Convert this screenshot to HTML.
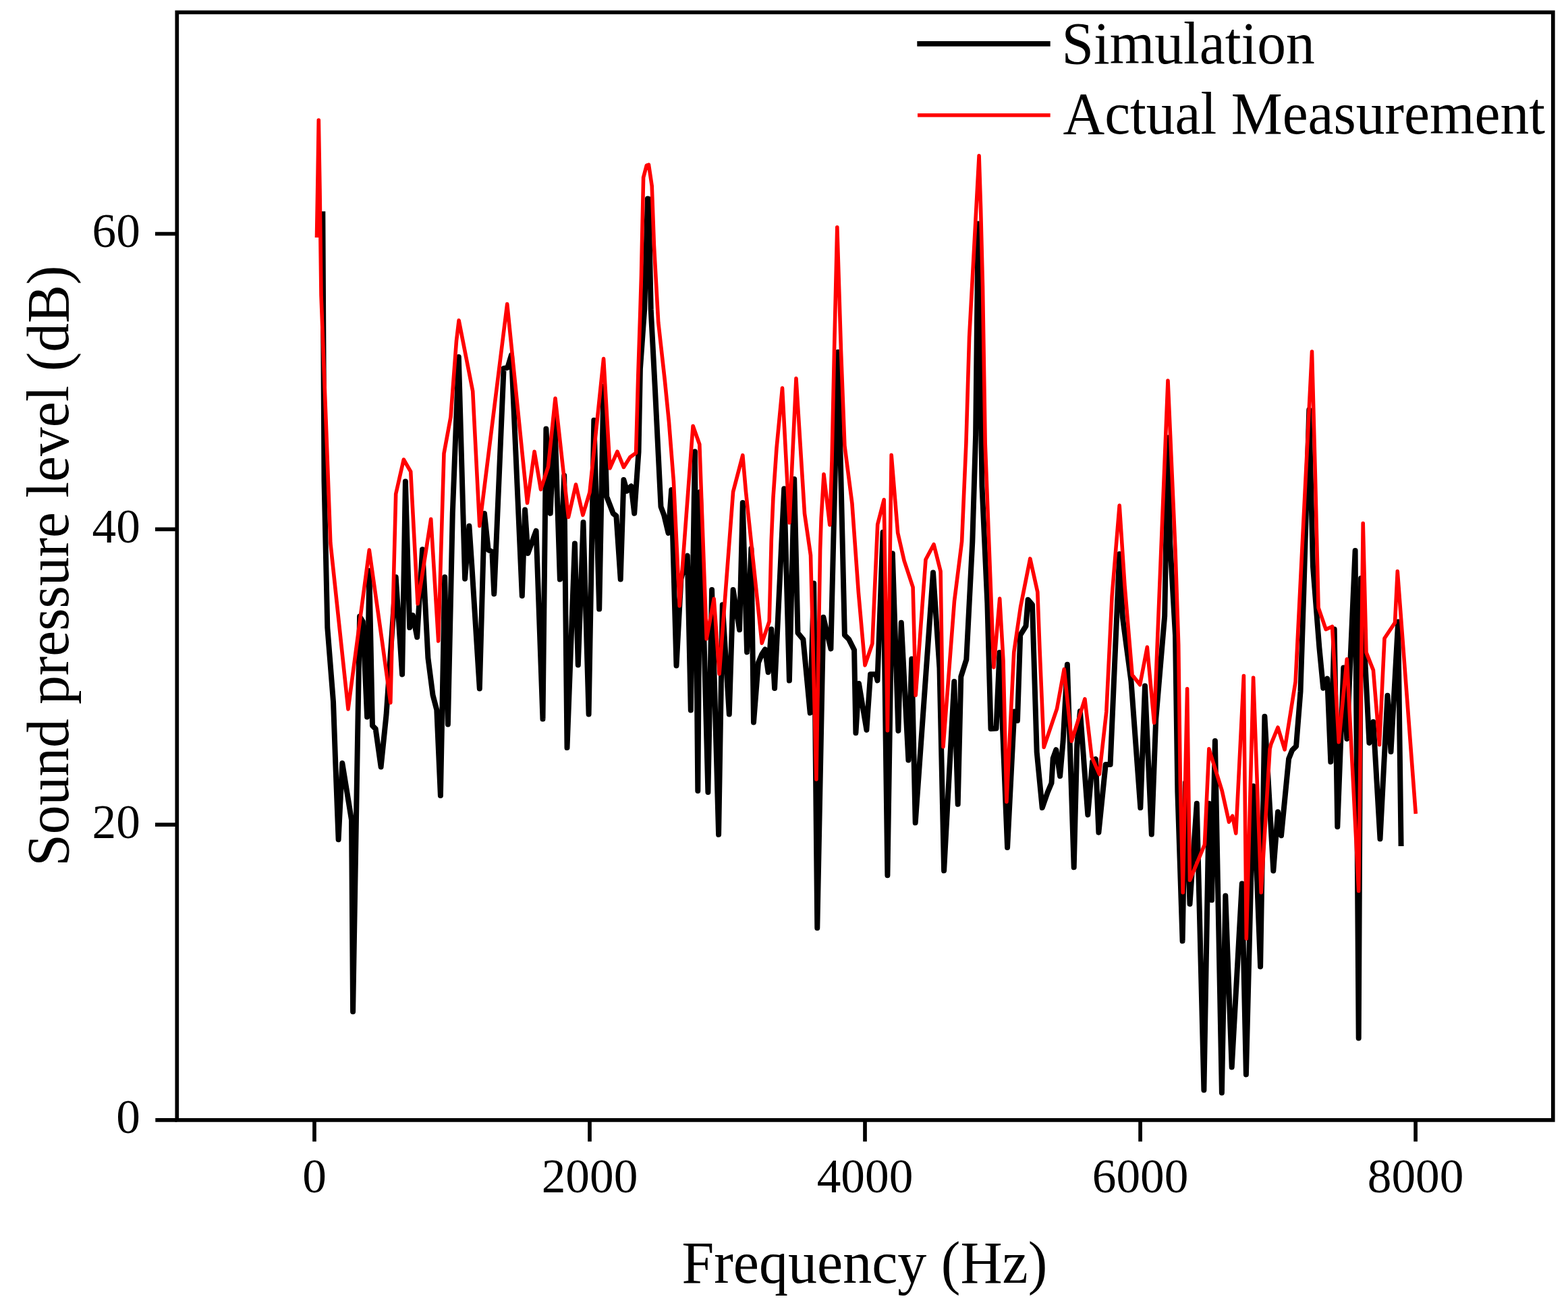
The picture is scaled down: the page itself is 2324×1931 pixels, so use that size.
<!DOCTYPE html>
<html><head><meta charset="utf-8"><style>
html,body{margin:0;padding:0;background:#fff;}
svg{display:block;}
text{font-family:'Liberation Serif','Times New Roman',serif;fill:#000;}
</style></head><body>
<svg width="2324" height="1931" viewBox="0 0 2324 1931">
<rect x="0" y="0" width="2324" height="1931" fill="#fff"/>
<g fill="none" stroke-linejoin="round" stroke-linecap="butt">
<path d="M478.3 313.3L480.5 713.0L485.3 930.0L494.0 1040.0L497.0 1124.0L501.6 1244.2L507.3 1130.9L521.0 1215.0L523.1 1499.2L533.1 913.5L537.8 921.0L544.1 1062.5L547.3 845.7L552.0 1075.5L556.7 1080.2L564.6 1136.5L572.5 1059.7L586.7 855.2L596.1 999.5L600.9 713.4L607.2 930.1L611.9 911.9L618.2 944.3L626.1 814.2L634.4 975.0L641.5 1030.0L647.3 1052.0L652.9 1179.1L659.2 855.2L663.9 1073.5L670.8 760.0L679.8 528.9L689.1 857.7L695.4 779.5L699.3 837.8L710.8 1020.6L718.0 761.1L723.7 814.9L729.4 817.8L732.3 880.2L746.6 546.0L752.3 544.8L758.0 526.0L773.8 883.0L778.1 755.4L782.4 820.0L794.6 786.7L804.5 1065.5L809.4 635.5L815.7 760.8L822.0 616.5L829.9 858.5L836.2 704.8L840.5 1108.1L851.9 805.6L856.8 985.5L864.5 774.1L872.6 1058.5L880.3 622.8L888.2 902.6L894.5 572.5L899.2 736.0L908.7 760.8L913.4 764.7L919.7 858.5L924.4 711.1L929.2 727.7L935.5 720.5L940.2 760.8L946.5 669.8L948.9 546.7L955.2 458.4L959.9 294.5L961.5 294.9L964.7 458.4L971.0 578.2L979.5 750.9L984.2 763.5L990.5 789.9L995.2 726.0L1002.5 986.5L1009.4 858.0L1018.8 823.7L1023.8 1052.5L1029.9 669.3L1034.3 1172.0L1037.8 729.1L1049.4 1174.0L1055.1 874.1L1065.1 1236.8L1070.8 896.2L1080.8 1058.5L1086.6 874.1L1096.1 933.3L1100.8 744.9L1107.1 966.4L1113.4 812.7L1117.0 1070.5L1124.0 982.0L1129.0 970.0L1133.9 962.4L1138.6 996.3L1143.3 932.4L1148.1 1020.0L1162.2 724.3L1169.9 1008.6L1177.2 709.9L1182.5 938.0L1190.4 947.5L1200.7 1056.5L1206.2 864.4L1211.3 1375.2L1220.4 914.8L1231.4 961.4L1242.0 521.8L1251.9 941.2L1258.2 947.5L1266.1 963.3L1268.4 1086.3L1273.0 1013.1L1284.4 1081.7L1290.1 999.3L1298.2 999.3L1300.5 1008.4L1308.6 788.7L1315.4 1297.2L1322.8 820.2L1331.4 1082.9L1335.8 922.7L1346.4 1126.5L1351.3 976.5L1356.7 1219.3L1383.0 848.6L1392.5 990.0L1399.1 1290.3L1414.3 1010.0L1419.7 1191.8L1424.3 1002.7L1432.3 977.5L1441.3 802.5L1446.1 645.0L1449.7 331.5L1455.5 720.6L1463.4 894.0L1468.5 1080.0L1476.5 1079.5L1481.5 967.0L1493.1 1256.0L1503.4 1054.4L1508.0 1068.0L1512.2 941.2L1520.5 927.8L1523.6 888.7L1530.0 896.2L1536.7 1114.6L1544.7 1197.1L1552.7 1174.2L1558.5 1160.5L1560.7 1123.8L1565.3 1111.2L1571.1 1150.1L1575.6 1098.6L1581.9 984.8L1591.7 1285.3L1596.3 1103.0L1600.9 1053.9L1612.3 1207.4L1619.2 1128.4L1623.8 1125.0L1628.4 1233.7L1638.7 1133.0L1645.6 1133.0L1659.2 821.0L1663.9 915.2L1676.5 1009.7L1690.3 1197.1L1697.0 1016.4L1706.8 1236.6L1713.2 1066.0L1726.2 912.9L1731.0 648.5L1734.1 802.5L1742.0 941.2L1745.4 1174.3L1752.6 1394.5L1757.0 1159.8L1763.5 1339.7L1773.8 1190.7L1784.4 1615.5L1791.9 1190.7L1796.0 1333.8L1800.9 1097.9L1810.9 1619.5L1816.3 1327.5L1825.7 1581.5L1840.8 1309.5L1846.9 1592.5L1857.6 1164.9L1868.1 1432.5L1874.4 1061.8L1887.3 1290.5L1894.0 1203.2L1899.0 1238.3L1910.1 1124.5L1915.1 1111.9L1921.1 1105.9L1927.5 1025.0L1932.3 878.0L1940.3 607.3L1946.0 840.0L1955.4 960.0L1961.2 1019.7L1967.2 1005.6L1972.3 1129.0L1977.7 932.5L1982.3 1225.3L1991.3 989.6L1996.3 1094.9L2008.6 815.9L2013.7 1538.5L2017.1 856.9L2029.4 1100.9L2035.4 1069.8L2045.5 1243.3L2056.5 1030.7L2061.5 1114.0L2072.2 921.5L2076.6 1254.0" stroke="#000" stroke-width="8.0"/>
<path d="M469.5 352.0L471.2 250.0L472.3 178.1L474.0 280.0L476.0 437.6L483.0 621.0L489.8 804.6L516.0 1050.9L547.3 815.1L566.2 949.4L578.8 1041.4L586.7 732.0L598.3 681.0L608.7 698.8L619.1 894.8L638.7 769.2L649.7 950.0L658.0 672.0L668.0 618.0L676.5 505.0L680.1 474.9L700.7 579.8L710.8 779.4L751.7 450.6L781.5 745.4L792.1 669.2L801.5 725.4L812.5 691.8L823.0 590.4L842.5 766.4L853.5 718.1L863.9 763.3L874.0 729.6L894.6 531.6L904.0 693.9L915.0 669.2L924.4 692.4L933.9 677.6L942.6 671.2L945.8 556.1L948.9 461.6L950.5 408.0L953.6 263.0L958.4 245.1L961.5 244.1L966.2 275.6L969.4 363.9L975.7 477.3L985.2 562.4L991.5 625.5L998.4 713.0L1007.2 897.9L1027.1 631.2L1036.8 658.5L1047.2 946.8L1058.2 887.4L1066.1 998.8L1086.6 728.8L1100.8 674.7L1105.5 728.8L1129.2 953.1L1140.2 921.0L1143.3 800.0L1146.0 737.0L1151.0 664.0L1159.5 575.1L1170.0 774.7L1180.0 560.9L1192.5 761.0L1201.5 823.0L1209.9 1154.9L1215.6 815.2L1217.2 767.9L1221.0 702.7L1229.8 777.9L1233.0 682.8L1236.5 520.0L1240.8 336.9L1246.5 520.0L1251.9 660.7L1262.9 745.8L1272.4 878.2L1282.0 985.9L1292.9 953.8L1300.7 777.3L1310.2 740.5L1315.4 1082.6L1321.2 674.4L1330.7 789.9L1340.1 830.9L1353.1 870.3L1357.2 1030.4L1372.0 829.3L1384.0 806.7L1394.1 846.7L1398.0 1106.7L1414.5 890.8L1425.6 802.5L1431.9 657.6L1436.6 500.0L1451.1 230.9L1453.6 309.0L1456.5 424.0L1460.2 657.6L1465.0 783.6L1472.9 989.0L1481.7 887.1L1487.0 979.0L1491.9 1188.1L1502.8 966.4L1512.6 899.4L1526.8 827.9L1537.8 877.3L1541.0 962.4L1547.2 1107.4L1566.5 1050.4L1577.2 991.8L1588.3 1098.4L1607.9 1035.9L1618.0 1121.5L1629.4 1147.5L1639.8 1055.0L1648.1 883.6L1659.2 749.1L1667.0 867.9L1678.1 1000.3L1689.6 1014.8L1700.3 959.0L1710.6 1071.2L1731.0 564.1L1742.0 815.0L1746.7 955.4L1749.3 1156.3L1753.2 1322.6L1759.6 1020.9L1763.5 1304.5L1785.4 1251.7L1791.9 1109.9L1811.2 1171.8L1821.5 1218.2L1826.7 1209.2L1831.8 1234.9L1843.4 1001.6L1847.3 1390.9L1857.6 1004.2L1869.2 1322.6L1882.1 1109.9L1884.0 1102.4L1894.0 1078.0L1904.1 1110.9L1920.1 1010.2L1944.5 521.1L1949.3 702.0L1954.1 900.7L1965.1 932.7L1974.5 928.5L1984.3 1099.8L1996.3 976.7L2013.7 1320.4L2020.2 775.6L2025.0 966.9L2035.4 993.1L2044.5 1103.8L2052.0 946.0L2067.5 922.7L2071.3 846.6L2098.3 1206.0" stroke="#f00" stroke-width="5.6"/>
</g>
<g stroke="#000" stroke-width="5.7" fill="none" stroke-linecap="square">
<rect x="262.3" y="18.3" width="2039.5" height="1641.6" stroke-linecap="butt"/>
</g>
<g stroke="#000" stroke-width="5.7">
<line x1="230.3" y1="1659.9" x2="262.3" y2="1659.9"/>
<line x1="230" y1="1222.1" x2="262.3" y2="1222.1"/><line x1="230" y1="784.3" x2="262.3" y2="784.3"/><line x1="230" y1="346.5" x2="262.3" y2="346.5"/><line x1="466.0" y1="1659.9" x2="466.0" y2="1691.7"/><line x1="874.0" y1="1659.9" x2="874.0" y2="1691.7"/><line x1="1282.0" y1="1659.9" x2="1282.0" y2="1691.7"/><line x1="1690.1" y1="1659.9" x2="1690.1" y2="1691.7"/><line x1="2098.1" y1="1659.9" x2="2098.1" y2="1691.7"/>
</g>
<g font-size="71.3"><text x="207.8" y="1679.3" text-anchor="end">0</text><text x="207.8" y="1241.5" text-anchor="end">20</text><text x="207.8" y="803.7" text-anchor="end">40</text><text x="207.8" y="365.9" text-anchor="end">60</text><text x="466.0" y="1766.7" text-anchor="middle">0</text><text x="874.0" y="1766.7" text-anchor="middle">2000</text><text x="1282.0" y="1766.7" text-anchor="middle">4000</text><text x="1690.1" y="1766.7" text-anchor="middle">6000</text><text x="2098.1" y="1766.7" text-anchor="middle">8000</text></g>
<text transform="translate(1010.4 1900.8) scale(1 1.03)" font-size="86.0">Frequency (Hz)</text>
<text transform="translate(100.9 1283.8) rotate(-90) scale(1 1.03)" font-size="85.5">Sound pressure level (dB)</text>
<line x1="1359.3" y1="64.9" x2="1556.7" y2="64.9" stroke="#000" stroke-width="7.9"/>
<line x1="1360" y1="170.8" x2="1556.7" y2="170.8" stroke="#f00" stroke-width="5.6"/>
<text transform="translate(1573.4 93.7) scale(1 1.03)" font-size="85.5">Simulation</text>
<text transform="translate(1575.4 197.6) scale(1 1.03)" font-size="85.5">Actual Measurement</text>
</svg>
</body></html>
